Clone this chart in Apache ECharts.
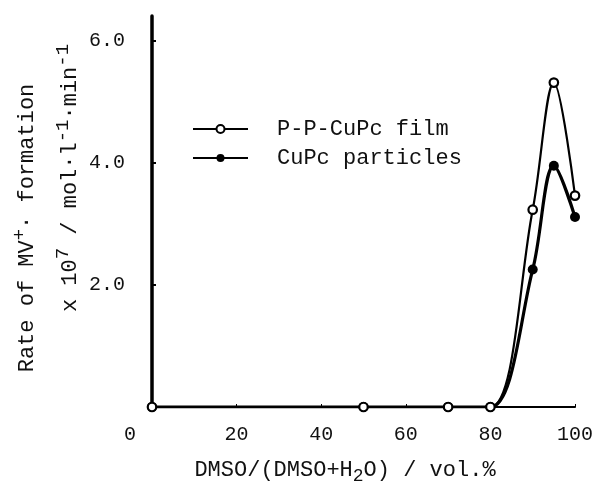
<!DOCTYPE html>
<html>
<head>
<meta charset="utf-8">
<script src="https://cdn.jsdelivr.net/npm/echarts@6/dist/echarts.min.js"></script>
<style>
html, body { margin: 0; background: #fff; }
#chart { width: 600px; height: 488px; }
</style>
</head>
<body>
<div id="chart"></div>
<script>
// DMSO content (vol.%) and rate of MV+ formation (x 10^7 mol l-1 min-1)
var dmso = [0, 50, 70, 80, 90, 95, 100];
var filmRate = [0, 0, 0, 0, 3.23, 5.31, 3.46];
var particleRate = [0, 0, 0, 0, 2.25, 3.95, 3.11];
var xTicks = [0, 20, 40, 60, 80, 100];
var yTicks = [2, 4, 6];
var seriesNames = ['P-P-CuPc film', 'CuPc particles'];

var FONT = '"Liberation Mono", "DejaVu Sans Mono", monospace';
var INK = '#111';

function pairs(xs, ys) {
	var out = [];
	for (var i = 0; i < xs.length; i++) out.push([xs[i], ys[i]]);
	return out;
}

var chart = echarts.init(document.getElementById('chart'), null, { renderer: 'canvas' });

// raised / lowered index text for the axis titles
var supStyle = { font: '19px ' + FONT, fill: INK, padding: [0, 0, 14, 0] };
var subStyle = { font: '18px ' + FONT, fill: INK, padding: [12, 0, 0, 0] };

var option = {
	animation: false,
	backgroundColor: '#fff',
	textStyle: { fontFamily: FONT, color: INK },
	grid: { left: 152, right: 25, top: 16, bottom: 81 },
	legend: {
		orient: 'vertical',
		left: 187,
		top: 113,
		itemWidth: 55,
		itemHeight: 10,
		itemGap: 7,
		data: seriesNames,
		textStyle: { fontFamily: FONT, fontSize: 22, color: INK, padding: [0, 0, 0, 24] }
	},
	xAxis: {
		type: 'value',
		min: 0,
		max: 100,
		interval: 20,
		axisLine: { lineStyle: { color: '#000', width: 2 } },
		axisTick: { inside: true, length: 3, lineStyle: { color: '#000' } },
		splitLine: { show: false },
		axisLabel: {
			margin: 18,
			fontFamily: FONT,
			fontSize: 20,
			color: INK,
			formatter: function (v) {
				if (xTicks.indexOf(v) < 0) return '';
				return v === 0 ? '{o|0}' : String(v);
			},
			rich: { o: { fontFamily: FONT, fontSize: 20, color: INK, padding: [0, 44, 0, 0] } }
		}
	},
	yAxis: {
		type: 'value',
		min: 0,
		max: 6.4,
		interval: 2,
		axisLine: { lineStyle: { color: '#000', width: 3.5 } },
		axisTick: { inside: true, length: 4, customValues: yTicks, lineStyle: { color: '#000', width: 2 } },
		splitLine: { show: false },
		axisLabel: {
			margin: 27,
			fontFamily: FONT,
			fontSize: 20,
			color: INK,
			customValues: yTicks,
			formatter: function (v) {
				return yTicks.indexOf(v) < 0 ? '' : v.toFixed(1);
			}
		}
	},
	series: [
		{
			name: seriesNames[1],
			type: 'line',
			data: pairs(dmso, particleRate),
			smooth: 0.35,
			symbol: 'circle',
			symbolSize: 10,
			z: 2,
			lineStyle: { color: '#000', width: 3.2 },
			itemStyle: { color: '#000', borderColor: '#000', borderWidth: 0 }
		},
		{
			name: seriesNames[0],
			type: 'line',
			data: pairs(dmso, filmRate),
			smooth: 0.35,
			symbol: 'circle',
			symbolSize: 8.5,
			z: 3,
			lineStyle: { color: '#000', width: 2.2 },
			itemStyle: { color: '#fff', borderColor: '#000', borderWidth: 2.2 }
		}
	],
	graphic: [
		{
			type: 'text',
			x: 27,
			y: 228,
			rotation: Math.PI / 2,
			style: {
				text: 'Rate of MV{sup|+}· formation',
				font: '22px ' + FONT,
				fill: INK,
				align: 'center',
				verticalAlign: 'middle',
				rich: { sup: supStyle }
			}
		},
		{
			type: 'text',
			x: 70,
			y: 178,
			rotation: Math.PI / 2,
			style: {
				text: 'x 10{sup|7} / mol·l{sup|-1}·min{sup|-1}',
				font: '22px ' + FONT,
				fill: INK,
				align: 'center',
				verticalAlign: 'middle',
				rich: { sup: supStyle }
			}
		},
		{
			type: 'text',
			x: 345,
			y: 470,
			style: {
				text: 'DMSO/(DMSO+H{sub|2}O) / vol.%',
				font: '22px ' + FONT,
				fill: INK,
				align: 'center',
				verticalAlign: 'middle',
				rich: { sub: subStyle }
			}
		}
	]
};

chart.setOption(option);
</script>
</body>
</html>
